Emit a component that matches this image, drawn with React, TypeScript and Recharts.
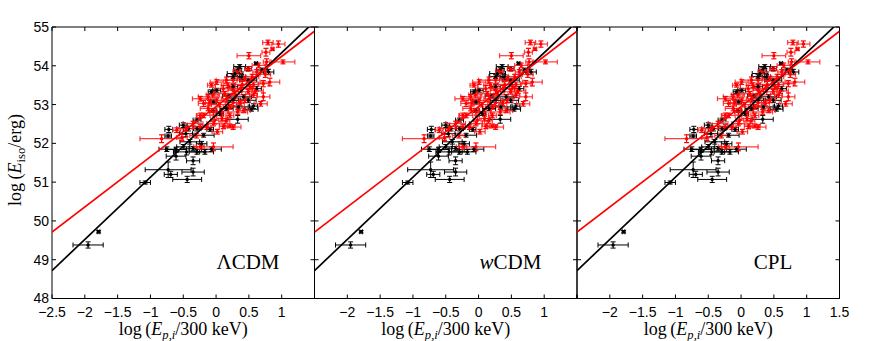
import React from 'react';
import { ComposedChart, Scatter, XAxis, YAxis, ErrorBar } from 'recharts';

// ---------- data ----------
const xTicks = [-2.5, -2, -1.5, -1, -0.5, 0, 0.5, 1, 1.5];
const yTicks = [48, 49, 50, 51, 52, 53, 54, 55];
const panelNames = ['ΛCDM', 'wCDM', 'CPL'];

const blackPoints = [
  { x: -1.95, y: 49.38, ex: 0.23, ey: 0.08 },
  { x: -1.79, y: 49.72, ex: 0.02, ey: 0.03 },
  { x: -1.08, y: 50.99, ex: 0.08, ey: 0.04 },
  { x: -0.73, y: 51.32, ex: 0.35, ey: 0.2 },
  { x: -0.69, y: 51.2, ex: 0.1, ey: 0.08 },
  { x: -0.35, y: 51.26, ex: 0.17, ey: 0.1 },
  { x: -0.44, y: 51.07, ex: 0.22, ey: 0.08 },
  { x: -0.35, y: 51.55, ex: 0.1, ey: 0.1 },
  { x: -0.61, y: 51.67, ex: 0.15, ey: 0.1 },
  { x: -0.75, y: 51.85, ex: 0.12, ey: 0.06 },
  { x: -0.61, y: 51.84, ex: 0.16, ey: 0.06 },
  { x: -0.45, y: 51.78, ex: 0.2, ey: 0.08 },
  { x: -0.29, y: 51.78, ex: 0.12, ey: 0.06 },
  { x: -0.17, y: 51.78, ex: 0.13, ey: 0.06 },
  { x: -0.07, y: 51.85, ex: 0.15, ey: 0.06 },
  { x: -0.5, y: 51.91, ex: 0.1, ey: 0.06 },
  { x: -0.4, y: 52.04, ex: 0.15, ey: 0.06 },
  { x: -0.22, y: 51.99, ex: 0.08, ey: 0.06 },
  { x: -0.72, y: 52.36, ex: 0.06, ey: 0.08 },
  { x: -0.73, y: 52.19, ex: 0.05, ey: 0.05 },
  { x: -0.5, y: 52.47, ex: 0.06, ey: 0.06 },
  { x: -0.46, y: 52.25, ex: 0.1, ey: 0.08 },
  { x: -0.42, y: 52.38, ex: 0.08, ey: 0.06 },
  { x: -0.29, y: 52.38, ex: 0.06, ey: 0.06 },
  { x: -0.19, y: 52.21, ex: 0.16, ey: 0.05 },
  { x: -0.29, y: 52.6, ex: 0.06, ey: 0.05 },
  { x: -0.09, y: 52.36, ex: 0.05, ey: 0.05 },
  { x: -0.05, y: 52.85, ex: 0.06, ey: 0.05 },
  { x: 0.06, y: 52.77, ex: 0.05, ey: 0.05 },
  { x: 0.33, y: 52.62, ex: 0.16, ey: 0.1 },
  { x: 0.16, y: 52.9, ex: 0.1, ey: 0.05 },
  { x: 0.34, y: 52.94, ex: 0.15, ey: 0.05 },
  { x: 0.26, y: 53.11, ex: 0.08, ey: 0.06 },
  { x: 0.49, y: 53.11, ex: 0.12, ey: 0.06 },
  { x: 0.57, y: 52.96, ex: 0.06, ey: 0.06 },
  { x: 0.54, y: 52.88, ex: 0.1, ey: 0.05 },
  { x: 0.42, y: 53.2, ex: 0.12, ey: 0.06 },
  { x: -0.04, y: 53.07, ex: 0.05, ey: 0.05 },
  { x: -0.07, y: 53.33, ex: 0.05, ey: 0.05 },
  { x: 0.01, y: 53.37, ex: 0.06, ey: 0.05 },
  { x: 0.26, y: 53.46, ex: 0.07, ey: 0.06 },
  { x: 0.39, y: 53.71, ex: 0.06, ey: 0.06 },
  { x: 0.29, y: 53.8, ex: 0.12, ey: 0.06 },
  { x: 0.33, y: 53.89, ex: 0.06, ey: 0.06 },
  { x: 0.36, y: 53.98, ex: 0.09, ey: 0.05 },
  { x: 0.49, y: 53.93, ex: 0.05, ey: 0.05 },
  { x: 0.61, y: 54.06, ex: 0.02, ey: 0.03 },
  { x: 0.8, y: 53.84, ex: 0.08, ey: 0.07 },
  { x: 0.7, y: 53.89, ex: 0.08, ey: 0.05 },
  { x: 0.62, y: 53.41, ex: 0.07, ey: 0.06 },
  { x: 0.49, y: 53.63, ex: 0.13, ey: 0.05 },
  { x: 0.26, y: 53.72, ex: 0.1, ey: 0.05 },
  { x: 0.2, y: 53.22, ex: 0.1, ey: 0.05 },
  { x: -0.35, y: 51.87, ex: 0.06, ey: 0.05 },
];

const redPoints = [
  { x: 0.79, y: 54.6, ex: 0.08, ey: 0.06 },
  { x: 0.95, y: 54.56, ex: 0.1, ey: 0.08 },
  { x: 0.86, y: 54.43, ex: 0.02, ey: 0.03 },
  { x: 0.76, y: 54.35, ex: 0.06, ey: 0.1 },
  { x: 0.5, y: 54.26, ex: 0.18, ey: 0.08 },
  { x: 0.77, y: 54.1, ex: 0.05, ey: 0.08 },
  { x: 1.02, y: 54.1, ex: 0.18, ey: 0.05 },
  { x: 0.65, y: 54.01, ex: 0.1, ey: 0.06 },
  { x: 0.49, y: 53.92, ex: 0.05, ey: 0.06 },
  { x: 0.62, y: 53.84, ex: 0.06, ey: 0.06 },
  { x: 0.75, y: 53.78, ex: 0.08, ey: 0.08 },
  { x: 0.44, y: 53.67, ex: 0.12, ey: 0.06 },
  { x: 0.82, y: 53.58, ex: 0.15, ey: 0.1 },
  { x: 0.72, y: 53.54, ex: 0.08, ey: 0.08 },
  { x: 0.57, y: 53.52, ex: 0.08, ey: 0.06 },
  { x: 0.16, y: 53.63, ex: 0.16, ey: 0.08 },
  { x: 0.26, y: 53.63, ex: 0.12, ey: 0.08 },
  { x: 0.01, y: 53.58, ex: 0.1, ey: 0.06 },
  { x: -0.07, y: 53.5, ex: 0.06, ey: 0.05 },
  { x: 0.11, y: 53.41, ex: 0.12, ey: 0.08 },
  { x: 0.26, y: 53.37, ex: 0.08, ey: 0.08 },
  { x: 0.37, y: 53.41, ex: 0.18, ey: 0.08 },
  { x: 0.49, y: 53.33, ex: 0.1, ey: 0.06 },
  { x: 0.44, y: 53.11, ex: 0.08, ey: 0.06 },
  { x: 0.72, y: 53.2, ex: 0.1, ey: 0.1 },
  { x: 0.57, y: 53.24, ex: 0.06, ey: 0.06 },
  { x: -0.12, y: 53.2, ex: 0.15, ey: 0.06 },
  { x: -0.24, y: 53.15, ex: 0.12, ey: 0.06 },
  { x: -0.19, y: 53.03, ex: 0.08, ey: 0.08 },
  { x: 0.01, y: 53.11, ex: 0.1, ey: 0.06 },
  { x: 0.16, y: 53.15, ex: 0.08, ey: 0.08 },
  { x: 0.26, y: 53.05, ex: 0.12, ey: 0.08 },
  { x: 0.21, y: 52.94, ex: 0.1, ey: 0.06 },
  { x: 0.37, y: 53.03, ex: 0.06, ey: 0.06 },
  { x: -0.12, y: 52.9, ex: 0.12, ey: 0.06 },
  { x: -0.04, y: 52.81, ex: 0.06, ey: 0.08 },
  { x: 0.09, y: 52.81, ex: 0.1, ey: 0.06 },
  { x: 0.21, y: 52.72, ex: 0.06, ey: 0.06 },
  { x: 0.33, y: 52.81, ex: 0.15, ey: 0.06 },
  { x: -0.02, y: 52.6, ex: 0.06, ey: 0.1 },
  { x: 0.09, y: 52.64, ex: 0.08, ey: 0.06 },
  { x: 0.11, y: 52.44, ex: 0.06, ey: 0.06 },
  { x: 0.21, y: 52.45, ex: 0.08, ey: 0.05 },
  { x: -0.04, y: 52.51, ex: 0.1, ey: 0.06 },
  { x: -0.14, y: 52.42, ex: 0.06, ey: 0.06 },
  { x: -0.24, y: 52.42, ex: 0.12, ey: 0.06 },
  { x: -0.19, y: 52.72, ex: 0.1, ey: 0.06 },
  { x: -0.35, y: 52.51, ex: 0.15, ey: 0.06 },
  { x: -0.45, y: 52.38, ex: 0.15, ey: 0.06 },
  { x: -0.6, y: 52.34, ex: 0.06, ey: 0.06 },
  { x: -0.83, y: 52.12, ex: 0.33, ey: 0.1 },
  { x: -0.04, y: 51.91, ex: 0.3, ey: 0.1 },
  { x: -0.24, y: 51.91, ex: 0.06, ey: 0.06 },
  { x: -0.24, y: 52.72, ex: 0.06, ey: 0.06 },
  { x: 0.26, y: 52.42, ex: 0.12, ey: 0.06 },
  { x: 0.42, y: 52.85, ex: 0.1, ey: 0.06 },
  { x: 0.3, y: 53.25, ex: 0.15, ey: 0.08 },
  { x: 0.13, y: 53.28, ex: 0.15, ey: 0.06 },
  { x: -0.05, y: 53.25, ex: 0.1, ey: 0.08 },
  { x: 0.05, y: 53.0, ex: 0.12, ey: 0.06 },
  { x: 0.18, y: 53.5, ex: 0.1, ey: 0.06 },
  { x: 0.4, y: 53.52, ex: 0.1, ey: 0.08 },
  { x: 0.55, y: 53.72, ex: 0.1, ey: 0.06 },
  { x: 0.32, y: 53.85, ex: 0.06, ey: 0.06 },
  { x: 0.6, y: 53.35, ex: 0.12, ey: 0.06 },
  { x: -0.3, y: 52.2, ex: 0.1, ey: 0.06 },
  { x: -0.52, y: 52.15, ex: 0.08, ey: 0.08 },
  { x: 0.15, y: 52.58, ex: 0.06, ey: 0.06 },
  { x: 0.02, y: 52.3, ex: 0.08, ey: 0.06 },
  { x: -0.1, y: 53.05, ex: 0.06, ey: 0.06 },
  { x: 0.68, y: 53.02, ex: 0.1, ey: 0.06 },
  { x: 0.52, y: 53.46, ex: 0.05, ey: 0.05 },
];

const blackFit = [
  { x: -2.5, y: 48.72 },
  { x: 1.5, y: 55.14 },
];
const redFit = [
  { x: -2.5, y: 49.71 },
  { x: 1.5, y: 54.89 },
];

// ---------- layout ----------
const W = 872;
const H = 341;
const PLOT_TOP = 27;
const PLOT_BOTTOM = 298.5;
const PANEL_W = 262.5;
const panelLefts = [52, 314.5, 577];
const AX = 1; // thin axis band
const serif = '"Liberation Serif", "Times New Roman", serif';
const sans = '"Liberation Sans", Arial, sans-serif';

const fmt = (panel: number) => (v: number) => {
  if (panel === 0 && v === 1.5) return '';
  if (panel === 1 && (v === -2.5 || v === 1.5)) return '';
  if (panel === 2 && v === -2.5) return '';
  return v < 0 ? '\u2212' + Math.abs(v) : String(v);
};

const Dot = (color: string) => (p: any) =>
  p.cx == null ? <g /> : <circle cx={p.cx} cy={p.cy} r={1.7} fill={color} />;
const NoShape = () => <g />;

function Panel({ idx }: { idx: number }) {
  const left = panelLefts[idx];
  const margin = {
    top: PLOT_TOP - AX,
    bottom: H - PLOT_BOTTOM - AX,
    left: left - AX,
    right: W - left - PANEL_W - AX,
  };
  return (
    <div style={{ position: 'absolute', left: 0, top: 0 }}>
      <ComposedChart width={W} height={H} margin={margin}>
        <XAxis
          xAxisId="b"
          type="number"
          dataKey="x"
          domain={[-2.5, 1.5]}
          ticks={xTicks}
          interval={0}
          allowDataOverflow
          height={AX}
          tickSize={-4}
          tickMargin={13}
          tickFormatter={fmt(idx)}
          tick={{ fill: '#000', fontSize: 14, fontFamily: sans }}
          axisLine={{ stroke: '#000', strokeWidth: 1 }}
          tickLine={{ stroke: '#000', strokeWidth: 1 }}
        />
        <XAxis
          xAxisId="t"
          orientation="top"
          type="number"
          dataKey="x"
          domain={[-2.5, 1.5]}
          ticks={xTicks}
          interval={0}
          allowDataOverflow
          height={AX}
          tickSize={-4}
          tickFormatter={() => ''}
          axisLine={{ stroke: '#000', strokeWidth: 1 }}
          tickLine={{ stroke: '#000', strokeWidth: 1 }}
        />
        <YAxis
          yAxisId="l"
          type="number"
          dataKey="y"
          domain={[48, 55]}
          ticks={yTicks}
          interval={0}
          allowDataOverflow
          width={AX}
          tickSize={-4}
          tickMargin={7}
          tickFormatter={idx === 0 ? (v: number) => String(v) : () => ''}
          tick={{ fill: '#000', fontSize: 14, fontFamily: sans }}
          axisLine={{ stroke: '#000', strokeWidth: 1 }}
          tickLine={{ stroke: '#000', strokeWidth: 1 }}
        />
        <YAxis
          yAxisId="r"
          orientation="right"
          type="number"
          dataKey="y"
          domain={[48, 55]}
          ticks={yTicks}
          interval={0}
          allowDataOverflow
          width={AX}
          tickSize={-4}
          tickFormatter={() => ''}
          axisLine={{ stroke: '#000', strokeWidth: 1 }}
          tickLine={{ stroke: '#000', strokeWidth: 1 }}
        />
        <Scatter
          xAxisId="b"
          yAxisId="l"
          data={blackPoints}
          shape={Dot('#000')}
          isAnimationActive={false}
        >
          <ErrorBar dataKey="ex" direction="x" width={2.5} stroke="#000" strokeWidth={1} />
          <ErrorBar dataKey="ey" direction="y" width={2.5} stroke="#000" strokeWidth={1} />
        </Scatter>
        <Scatter
          xAxisId="b"
          yAxisId="l"
          data={redPoints}
          shape={Dot('#ff0000')}
          isAnimationActive={false}
        >
          <ErrorBar dataKey="ex" direction="x" width={2.5} stroke="#ff1a1a" strokeOpacity={0.85} strokeWidth={1.2} />
          <ErrorBar dataKey="ey" direction="y" width={2.5} stroke="#ff0000" strokeWidth={1.2} />
        </Scatter>
        <Scatter
          xAxisId="b"
          yAxisId="l"
          data={blackFit}
          line={{ stroke: '#000', strokeWidth: 1.7 }}
          shape={NoShape}
          isAnimationActive={false}
        />
        <Scatter
          xAxisId="b"
          yAxisId="l"
          data={redFit}
          line={{ stroke: '#ff0000', strokeWidth: 1.7 }}
          shape={NoShape}
          isAnimationActive={false}
        />
      </ComposedChart>
    </div>
  );
}

function PanelName({ idx }: { idx: number }) {
  const cx = panelLefts[idx] + 196;
  const name = panelNames[idx];
  return (
    <div
      style={{
        position: 'absolute',
        left: cx,
        top: 262,
        transform: 'translate(-50%, -50%)',
        fontFamily: serif,
        fontSize: 21,
        lineHeight: 1,
        whiteSpace: 'nowrap',
        color: '#000',
      }}
    >
      {name === 'wCDM' ? (
        <>
          <i>w</i>CDM
        </>
      ) : (
        name
      )}
    </div>
  );
}

function XTitle({ idx }: { idx: number }) {
  const cx = panelLefts[idx] + PANEL_W / 2;
  return (
    <div
      style={{
        position: 'absolute',
        left: cx,
        top: 329,
        transform: 'translate(-50%, -50%)',
        fontFamily: serif,
        fontSize: 18,
        lineHeight: 1,
        whiteSpace: 'nowrap',
        color: '#000',
      }}
    >
      log&thinsp;(<i>E</i>
      <span style={{ fontSize: '0.7em', position: 'relative', top: '0.35em' }}>
        <i>p,i</i>
      </span>
      /300&nbsp;keV)
    </div>
  );
}

export default function App() {
  return (
    <div
      style={{
        position: 'absolute',
        left: 0,
        top: 0,
        width: W,
        height: H,
        background: '#fff',
        overflow: 'hidden',
      }}
    >
      {[0, 1, 2].map((i) => (
        <Panel key={i} idx={i} />
      ))}
      {[0, 1, 2].map((i) => (
        <PanelName key={'n' + i} idx={i} />
      ))}
      {[0, 1, 2].map((i) => (
        <XTitle key={'t' + i} idx={i} />
      ))}
      <div
        style={{
          position: 'absolute',
          left: 15,
          top: 160,
          transform: 'translate(-50%, -50%) rotate(-90deg)',
          fontFamily: serif,
          fontSize: 18,
          lineHeight: 1,
          whiteSpace: 'nowrap',
          color: '#000',
        }}
      >
        log&thinsp;(<i>E</i>
        <span style={{ fontSize: '0.7em', position: 'relative', top: '0.35em' }}>iso</span>
        /erg)
      </div>
    </div>
  );
}
